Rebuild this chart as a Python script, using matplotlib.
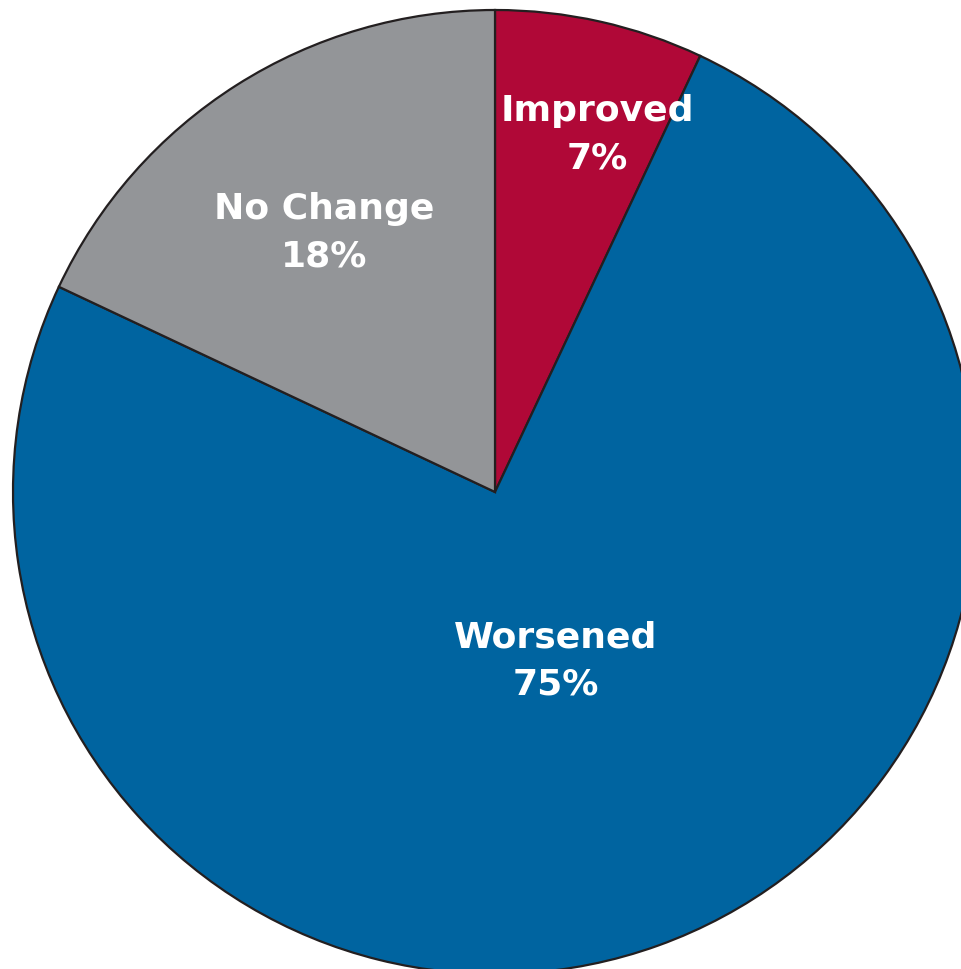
import matplotlib.pyplot as plt
import numpy as np

# share of respondents by outcome
labels = ['Improved', 'Worsened', 'No Change']
shares = [7, 75, 18]
colors = ['#B00837', '#0064A0', '#939598']
# label placement: fraction of radius, and angle nudge (deg) off the wedge middle
label_dist = [0.77, 0.373, 0.645]
label_turn = [-3.4, 0.0, 1.0]

fig = plt.figure(figsize=(9.61, 9.69), dpi=100)
ax = fig.add_axes([0, 0, 1, 1])

R = 482.0
cx, cy = 495.0, 492.0
wedges, _ = ax.pie(shares, colors=colors, startangle=90, counterclock=False,
                   radius=1.0,
                   wedgeprops=dict(edgecolor='#231F20', linewidth=1.6))

for w, lab, val, d, t in zip(wedges, labels, shares, label_dist, label_turn):
    ang = np.deg2rad((w.theta1 + w.theta2) / 2.0 + t)
    ax.text(d * np.cos(ang), d * np.sin(ang), '%s\n%d%%' % (lab, val),
            ha='center', va='center', color='white', fontsize=26,
            fontweight='bold', family='DejaVu Sans', linespacing=1.5)

ax.set_xlim(-cx / R, (961 - cx) / R)
ax.set_ylim(-(969 - cy) / R, cy / R)
ax.set_aspect('auto')
ax.axis('off')

fig.savefig('out.png', dpi=100, facecolor='white')
